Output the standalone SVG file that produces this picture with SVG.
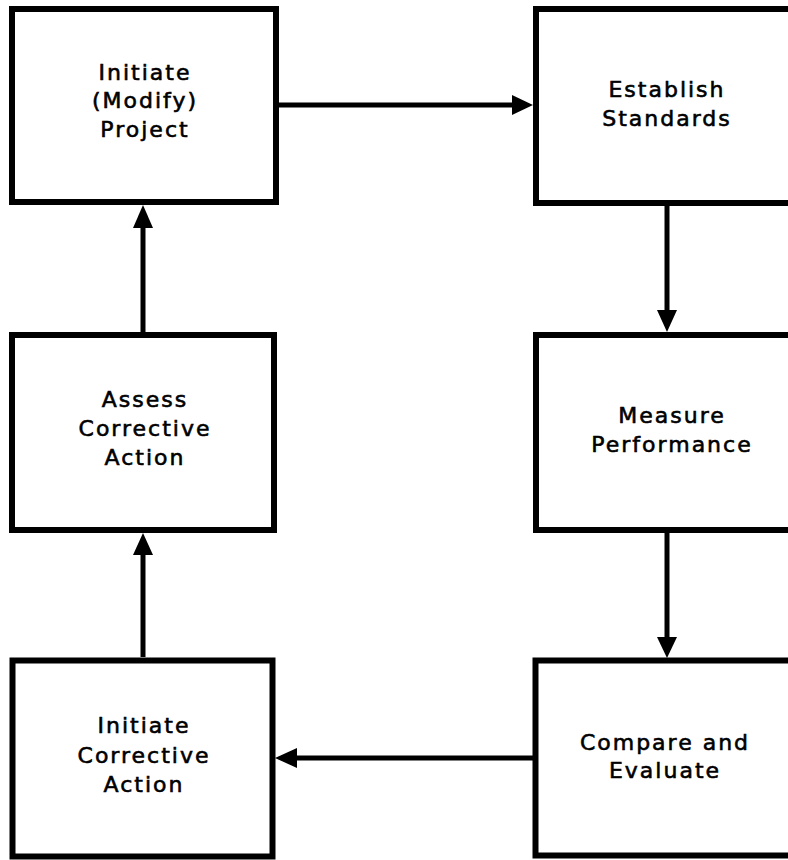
<svg xmlns="http://www.w3.org/2000/svg" width="788" height="860" viewBox="0 0 788 860">
  <style>
    .box { fill: #ffffff; stroke: #000000; stroke-width: 6; }
    .lbl { font-family: "DejaVu Sans", Verdana, sans-serif; font-size: 22px; letter-spacing: 2px; fill: #000000; stroke: #000000; stroke-width: 0.6; text-anchor: middle; }
    .wire { stroke: #000000; stroke-width: 5; fill: none; }
    .head { fill: #000000; stroke: none; }
  </style>
  <rect x="0" y="0" width="788" height="860" fill="#ffffff"/>

  <g id="initiate-project">
    <rect class="box" x="12" y="9" width="264" height="193"/>
    <text class="lbl" x="145" y="80">Initiate</text>
    <text class="lbl" x="145" y="108">(Modify)</text>
    <text class="lbl" x="145" y="137">Project</text>
  </g>

  <g id="establish-standards">
    <rect class="box" x="536" y="9" width="264" height="194"/>
    <text class="lbl" x="667" y="97">Establish</text>
    <text class="lbl" x="667" y="126">Standards</text>
  </g>

  <g id="assess-corrective-action">
    <rect class="box" x="12" y="335" width="262" height="195"/>
    <text class="lbl" x="145" y="407">Assess</text>
    <text class="lbl" x="145" y="436">Corrective</text>
    <text class="lbl" x="145" y="465">Action</text>
  </g>

  <g id="measure-performance">
    <rect class="box" x="536" y="335" width="264" height="195"/>
    <text class="lbl" x="672" y="423">Measure</text>
    <text class="lbl" x="672" y="452">Performance</text>
  </g>

  <g id="initiate-corrective-action">
    <rect class="box" x="12.5" y="660.5" width="260" height="196"/>
    <text class="lbl" x="144" y="733">Initiate</text>
    <text class="lbl" x="144" y="763">Corrective</text>
    <text class="lbl" x="144" y="792">Action</text>
  </g>

  <g id="compare-evaluate">
    <rect class="box" x="535.5" y="660.5" width="264" height="195"/>
    <text class="lbl" x="665" y="750">Compare and</text>
    <text class="lbl" x="665" y="778">Evaluate</text>
  </g>

  <g id="connectors">
    <line class="wire" x1="279" y1="105" x2="513" y2="105"/>
    <polygon class="head" points="512,95 533,105 512,115"/>

    <line class="wire" x1="667" y1="206" x2="667" y2="311"/>
    <polygon class="head" points="657,310 677,310 667,332"/>

    <line class="wire" x1="667" y1="533" x2="667" y2="638"/>
    <polygon class="head" points="657,637 677,637 667,658"/>

    <line class="wire" x1="533" y1="758" x2="296" y2="758"/>
    <polygon class="head" points="297,748 297,768 275,758"/>

    <line class="wire" x1="143" y1="657" x2="143" y2="554"/>
    <polygon class="head" points="133,555 153,555 143,533"/>

    <line class="wire" x1="143" y1="332" x2="143" y2="227"/>
    <polygon class="head" points="133,228 153,228 143,205"/>
  </g>
</svg>
